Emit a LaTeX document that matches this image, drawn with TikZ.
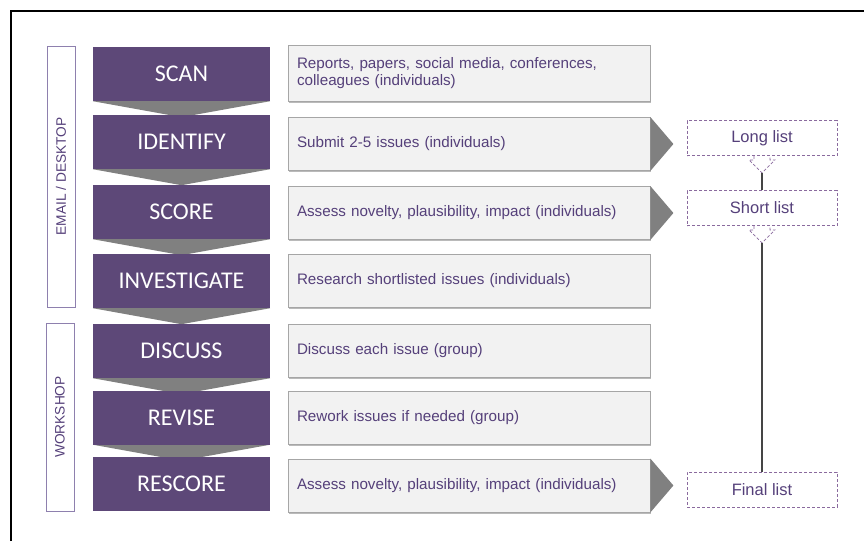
\documentclass[tikz,border=0pt]{standalone}
\usepackage{fontspec}
\setmainfont{Liberation Sans}
\newfontfamily\stepfont{Carlito}
\usetikzlibrary{shapes.geometric, arrows, calc, shadows, backgrounds}
\definecolor{stepcol}{HTML}{5D4878}
\definecolor{desccol}{HTML}{55407A}
\definecolor{descfill}{HTML}{F2F2F2}
\definecolor{descline}{HTML}{A6A6A6}
\definecolor{chevcol}{HTML}{808080}
\definecolor{phasecol}{HTML}{8E80AE}
\definecolor{listcol}{HTML}{8A6A9E}
\definecolor{linkcol}{HTML}{454545}
\tikzstyle{stepbox} = [rectangle, minimum width=177pt, minimum height=54pt, inner sep=0pt, fill=stepcol, text=white, font=\stepfont\fontsize{24}{24}\selectfont]
\tikzstyle{descbox} = [rectangle, minimum width=362pt, minimum height=53pt, text width=344pt, inner xsep=9pt, align=left, draw=descline, line width=0.8pt, fill=descfill, text=desccol, font=\fontsize{15.2}{17.5}\selectfont, drop shadow={shadow xshift=1pt, shadow yshift=-1.5pt, opacity=0.6, fill=black!45}]
\tikzstyle{phase} = [rectangle, rotate=90, minimum height=28pt, inner sep=0pt, draw=phasecol, line width=1pt, text=desccol, font=\fontsize{13.7}{13.7}\selectfont]
\tikzstyle{listbox} = [rectangle, minimum width=150pt, minimum height=35pt, inner sep=0pt, draw=listcol, densely dashed, line width=0.8pt, text=desccol, font=\fontsize{16.5}{16.5}\selectfont]
\tikzstyle{chev} = [fill=chevcol]
\tikzstyle{pointer} = [fill=chevcol]
\tikzstyle{outline} = [draw=listcol, densely dashed, line width=0.8pt]
\tikzstyle{link} = [draw=linkcol, line width=2.4pt]

\begin{document}
\begin{tikzpicture}[x=1pt, y=1pt, yscale=-1]

\useasboundingbox (0,0) rectangle (864,541);
\draw [line width=1.5pt] (11,541) -- (11,11) -- (864,11);

\node at (61, 176.5) (email) [phase, minimum width=261pt] {EMAIL / DESKTOP};
\node at (60, 417) (workshop) [phase, minimum width=188pt] {WORKSHOP};

\node at (181.5, 74) (scan) [stepbox] {SCAN};
\node at (181.5, 142) (identify) [stepbox] {IDENTIFY};
\node at (181.5, 212) (score) [stepbox] {SCORE};
\node at (181.5, 281) (investigate) [stepbox] {INVESTIGATE};
\node at (181.5, 351) (discuss) [stepbox] {DISCUSS};
\node at (181.5, 417.5) (revise) [stepbox] {REVISE};
\node at (181.5, 484) (rescore) [stepbox] {RESCORE};

\begin{scope}[on background layer]
\fill [chev] (scan.south west) -- (scan.south east) -- ($(scan.south)+(0,16)$) -- cycle;
\fill [chev] (identify.south west) -- (identify.south east) -- ($(identify.south)+(0,16)$) -- cycle;
\fill [chev] (score.south west) -- (score.south east) -- ($(score.south)+(0,16)$) -- cycle;
\fill [chev] (investigate.south west) -- (investigate.south east) -- ($(investigate.south)+(0,16)$) -- cycle;
\fill [chev] (discuss.south west) -- (discuss.south east) -- ($(discuss.south)+(0,16)$) -- cycle;
\fill [chev] (revise.south west) -- (revise.south east) -- ($(revise.south)+(0,16)$) -- cycle;
\end{scope}

\node at (469, 73) (scandesc) [descbox, minimum height=56pt] {Reports, papers, social media, conferences,\\colleagues (individuals)};
\node at (469, 144) (identifydesc) [descbox] {Submit 2-5 issues (individuals)};
\node at (469, 213) (scoredesc) [descbox] {Assess novelty, plausibility, impact (individuals)};
\node at (469, 281) (investigatedesc) [descbox] {Research shortlisted issues (individuals)};
\node at (469, 351) (discussdesc) [descbox] {Discuss each issue (group)};
\node at (469, 418) (revisedesc) [descbox] {Rework issues if needed (group)};
\node at (469, 485.5) (rescoredesc) [descbox] {Assess novelty, plausibility, impact (individuals)};

\fill [pointer] (identifydesc.north east) -- (identifydesc.south east) -- ($(identifydesc.east)+(23,0)$) -- cycle;
\fill [pointer] (scoredesc.north east) -- (scoredesc.south east) -- ($(scoredesc.east)+(23,0)$) -- cycle;
\fill [pointer] (rescoredesc.north east) -- (rescoredesc.south east) -- ($(rescoredesc.east)+(23,0)$) -- cycle;

\node at (762, 138) (long) [listbox] {Long list};
\node at (762, 208) (short) [listbox] {Short list};
\node at (762, 489.5) (final) [listbox] {Final list};

\draw [outline] ($(long.south)+(-8,0)$) -- ++(0,4) -- ++(-5,0) -- ++(13,13) -- ++(13,-13) -- ++(-5,0) -- ++(0,-4);
\draw [outline] ($(short.south)+(-8,0)$) -- ++(0,4) -- ++(-5,0) -- ++(13,13) -- ++(13,-13) -- ++(-5,0) -- ++(0,-4);
\coordinate (longtip) at ($(long.south)+(0,17)$);
\coordinate (shorttip) at ($(short.south)+(0,17)$);

\draw [link] (longtip) -- (short);
\draw [link] (shorttip) -- (final);

\end{tikzpicture}
\end{document}
